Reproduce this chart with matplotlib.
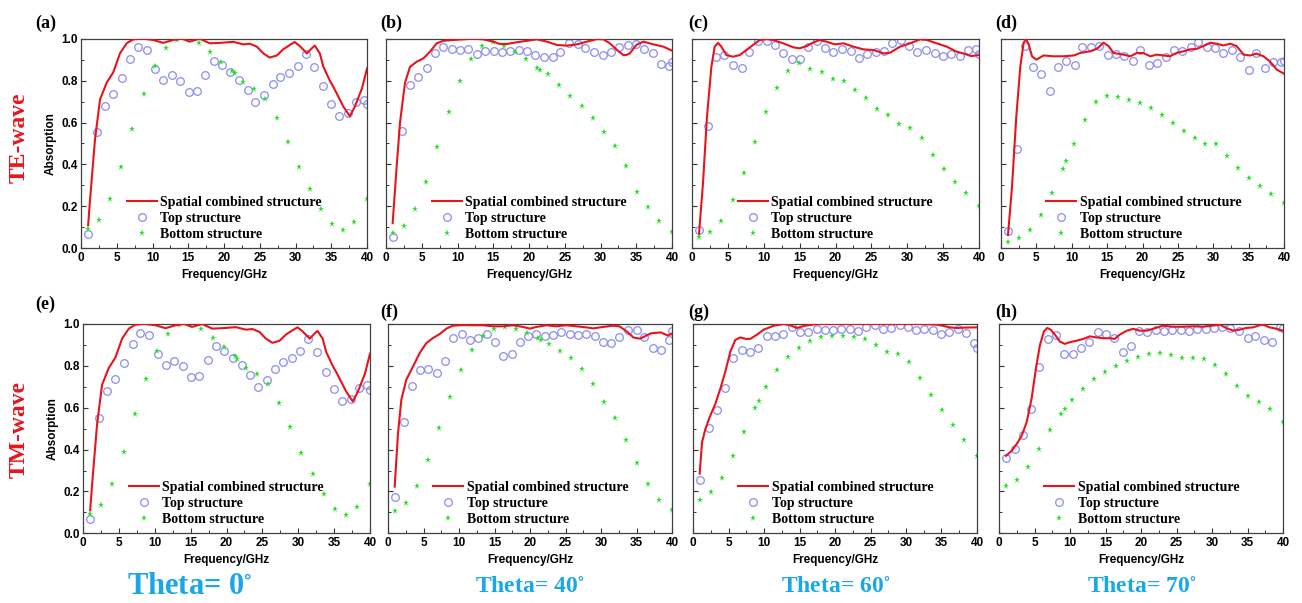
import matplotlib
matplotlib.use("Agg")
import matplotlib.pyplot as plt
from matplotlib.ticker import MultipleLocator

plt.rcParams['mathtext.fontset'] = 'stix'

# sample frequencies (GHz) of the scatter series
freq_top = [1.0, 2.2, 3.4, 4.5, 5.7, 6.9, 8.0, 9.2, 10.4, 11.5, 12.7, 13.9, 15.1, 16.2,
            17.4, 18.6, 19.7, 20.9, 22.1, 23.3, 24.4, 25.6, 26.8, 27.9, 29.1, 30.3, 31.4,
            32.6, 33.8, 35.0, 36.1, 37.3, 38.5, 39.6, 40.0]
freq_bot = [1.0, 2.55, 4.1, 5.65, 7.2, 8.75, 10.3, 11.85, 13.4, 14.95, 16.5, 18.05, 19.6,
            21.15, 22.7, 24.25, 25.8, 27.35, 28.9, 30.45, 32.0, 33.55, 35.1, 36.65, 38.2, 40.0]
freq_bot_21 = freq_bot[:14] + [21.5] + freq_bot[14:]
freq_bot_9 = freq_bot[:6] + [9.25] + freq_bot[6:]

# (a)/(e) theta = 0
line_x_a = [1.0, 1.26, 1.96, 2.66, 3.59, 4.52, 5.45, 6.39, 7.32, 8.72, 10.1, 11.5, 12.9, 14.1,
            15.2, 16.6, 18.0, 19.4, 21.3, 22.7, 23.6, 24.6, 25.5, 26.4, 27.4, 28.3, 29.2, 29.9,
            30.6, 31.6, 32.3, 32.7, 33.4, 33.9, 34.8, 35.3, 36.7, 37.6, 38.3, 39.3, 40.0]
line_y_a = [0.11, 0.23, 0.52, 0.71, 0.79, 0.84, 0.93, 0.978, 0.997, 1.0, 0.994, 0.98, 0.994, 1.0,
            0.986, 1.0, 0.978, 0.98, 0.985, 0.973, 0.976, 0.962, 0.93, 0.91, 0.92, 0.95, 0.97, 0.984,
            0.965, 0.93, 0.955, 0.967, 0.93, 0.866, 0.80, 0.77, 0.676, 0.63, 0.676, 0.763, 0.858]
top_a = [0.07, 0.553, 0.68, 0.735, 0.814, 0.903, 0.959, 0.948, 0.855, 0.804, 0.825, 0.80, 0.746,
         0.752, 0.828, 0.895, 0.873, 0.839, 0.803, 0.757, 0.70, 0.731, 0.785, 0.817, 0.836, 0.871,
         0.928, 0.866, 0.773, 0.69, 0.633, 0.644, 0.696, 0.709, 0.687]
bot_a = [0.09, 0.135, 0.235, 0.39, 0.568, 0.736, 0.87, 0.954, 0.994, 0.998, 0.978, 0.935, 0.889,
         0.846, 0.835, 0.792, 0.76, 0.712, 0.623, 0.506, 0.386, 0.281, 0.189, 0.118, 0.087, 0.126, 0.235]

# (b) TE, theta = 40
line_x_b = [0.93, 1.49, 1.96, 2.66, 3.36, 4.29, 5.22, 6.15, 7.09, 8.02, 9.42, 10.8, 12.2, 13.6,
            15.0, 15.9, 16.9, 18.3, 19.7, 21.1, 22.5, 23.9, 25.3, 26.7, 28.1, 29.5, 30.4, 31.3,
            32.3, 33.2, 33.6, 34.1, 35.0, 36.0, 37.4, 38.8, 40.0]
line_y_b = [0.12, 0.39, 0.60, 0.79, 0.866, 0.89, 0.906, 0.938, 0.978, 0.99, 0.994, 0.997, 1.0, 0.997,
            0.986, 0.975, 0.975, 0.983, 0.99, 0.997, 0.986, 0.97, 0.967, 0.973, 0.986, 0.998, 0.997, 0.978,
            0.946, 0.922, 0.922, 0.93, 0.97, 0.986, 0.973, 0.962, 0.943]
top_b = [0.056, 0.561, 0.779, 0.816, 0.858, 0.93, 0.962, 0.952, 0.944, 0.952, 0.928, 0.941, 0.941,
         0.938, 0.941, 0.948, 0.943, 0.92, 0.913, 0.911, 0.936, 0.978, 0.976, 0.954, 0.938, 0.922,
         0.936, 0.962, 0.968, 0.973, 0.951, 0.93, 0.878, 0.87, 0.889]
bot_b = [0.075, 0.108, 0.188, 0.318, 0.483, 0.652, 0.797, 0.901, 0.963, 0.983, 0.967, 0.936, 0.901,
         0.858, 0.849, 0.831, 0.78, 0.728, 0.679, 0.62, 0.555, 0.486, 0.394, 0.269, 0.197, 0.129, 0.076]

# (c) TE, theta = 60
line_x_c = [0.98, 1.53, 2.09, 2.70, 3.16, 3.63, 4.09, 4.79, 5.72, 6.65, 7.58, 8.51, 9.44, 10.4,
            11.3, 12.7, 14.1, 15.0, 16.0, 16.9, 17.8, 18.7, 19.9, 21.1, 22.5, 23.9, 25.3, 26.7,
            27.6, 29.0, 30.4, 31.8, 32.7, 34.1, 35.5, 36.9, 37.8, 38.9, 40.0]
line_y_c = [0.07, 0.31, 0.628, 0.866, 0.962, 0.98, 0.962, 0.922, 0.914, 0.922, 0.946, 0.97, 0.994, 0.998,
            0.994, 0.978, 0.959, 0.954, 0.965, 0.982, 0.994, 0.986, 0.973, 0.978, 0.962, 0.949, 0.946, 0.93,
            0.933, 0.962, 0.978, 0.997, 0.994, 0.978, 0.962, 0.938, 0.93, 0.917, 0.922]
top_c = [0.087, 0.585, 0.911, 0.922, 0.873, 0.862, 0.938, 0.987, 0.987, 0.971, 0.93, 0.901, 0.901,
         0.959, 0.989, 0.957, 0.938, 0.949, 0.941, 0.909, 0.927, 0.936, 0.943, 0.978, 0.995, 0.967,
         0.936, 0.946, 0.93, 0.919, 0.927, 0.917, 0.946, 0.951, 0.925]
bot_c = [0.052, 0.076, 0.132, 0.229, 0.361, 0.507, 0.65, 0.766, 0.846, 0.882, 0.857, 0.841, 0.808,
         0.798, 0.754, 0.717, 0.665, 0.638, 0.591, 0.576, 0.526, 0.444, 0.38, 0.318, 0.262, 0.204]

# (d) TE, theta = 70
line_x_d = [0.99, 1.55, 2.16, 2.73, 3.2, 3.53, 3.91, 4.38, 4.99, 6.02, 7.44, 8.85, 10.3, 11.2,
            12.6, 13.6, 14.5, 15.2, 15.9, 17.3, 18.3, 19.2, 20.1, 21.1, 22.0, 22.96, 23.9, 24.8,
            25.8, 26.7, 27.7, 28.6, 29.6, 30.5, 31.4, 32.4, 33.3, 34.3, 35.2, 36.1, 37.1, 38.0,
            39.0, 40.0]
line_y_d = [0.064, 0.29, 0.627, 0.868, 0.98, 1.0, 0.973, 0.916, 0.9, 0.92, 0.916, 0.916, 0.92, 0.932,
            0.94, 0.953, 0.981, 0.965, 0.932, 0.924, 0.916, 0.932, 0.932, 0.916, 0.924, 0.92, 0.916, 0.932,
            0.94, 0.949, 0.952, 0.965, 0.981, 0.976, 0.968, 0.976, 0.965, 0.924, 0.92, 0.929, 0.916, 0.892,
            0.852, 0.833]
top_d = [0.084, 0.473, 0.965, 0.863, 0.83, 0.752, 0.863, 0.895, 0.876, 0.961, 0.961, 0.965, 0.923,
         0.929, 0.916, 0.895, 0.945, 0.876, 0.884, 0.913, 0.945, 0.94, 0.96, 0.982, 0.961, 0.957,
         0.934, 0.945, 0.913, 0.849, 0.932, 0.86, 0.887, 0.887, 0.895]
bot_d = [0.032, 0.048, 0.087, 0.161, 0.262, 0.379, 0.418, 0.498, 0.611, 0.699, 0.728, 0.72, 0.707,
         0.691, 0.669, 0.635, 0.596, 0.559, 0.527, 0.498, 0.498, 0.439, 0.383, 0.334, 0.296, 0.257, 0.215]

# (f) TM, theta = 40
line_x_f = [0.94, 1.41, 1.88, 2.58, 3.52, 4.46, 5.4, 6.34, 7.28, 8.22, 9.15, 10.6, 12.0, 13.4,
            14.8, 16.2, 17.6, 19.0, 20.0, 20.9, 22.3, 23.7, 25.1, 26.5, 27.9, 28.9, 30.3, 31.7,
            32.6, 33.6, 34.6, 35.5, 37.0, 38.4, 39.4, 40.0]
line_y_f = [0.223, 0.478, 0.638, 0.734, 0.797, 0.861, 0.909, 0.933, 0.952, 0.978, 0.992, 0.995, 0.994, 0.994,
            0.989, 0.989, 0.994, 0.986, 0.978, 0.986, 0.994, 0.989, 0.994, 0.989, 0.984, 0.979, 0.986, 0.992,
            0.989, 0.965, 0.935, 0.93, 0.955, 0.96, 0.945, 0.955]
top_f = [0.172, 0.53, 0.702, 0.778, 0.786, 0.766, 0.825, 0.933, 0.952, 0.923, 0.935, 0.952, 0.912,
         0.848, 0.856, 0.914, 0.941, 0.952, 0.944, 0.949, 0.962, 0.952, 0.949, 0.952, 0.944, 0.914,
         0.911, 0.938, 0.97, 0.97, 0.936, 0.885, 0.874, 0.925, 0.965]
bot_f = [0.108, 0.147, 0.226, 0.352, 0.501, 0.651, 0.778, 0.877, 0.944, 0.978, 0.986, 0.978, 0.957,
         0.933, 0.925, 0.906, 0.872, 0.837, 0.785, 0.714, 0.625, 0.549, 0.447, 0.335, 0.234, 0.159, 0.112]

# (g) TM, theta = 60
line_x_g = [0.94, 1.27, 1.74, 2.35, 3.15, 3.85, 4.55, 5.26, 5.96, 6.67, 7.37, 8.08, 9.01, 9.95,
            11.4, 12.8, 13.7, 14.6, 15.8, 17.5, 20.3, 22.6, 27.3, 32.0, 34.4, 36.2, 37.2, 38.5, 40.0]
line_y_g = [0.285, 0.434, 0.498, 0.555, 0.619, 0.691, 0.772, 0.868, 0.924, 0.936, 0.929, 0.929, 0.949, 0.973,
            0.992, 1.0, 0.994, 0.981, 0.992, 1.0, 1.0, 1.0, 1.0, 1.0, 0.997, 0.984, 0.981, 0.983, 0.984]
top_g = [0.257, 0.502, 0.587, 0.695, 0.839, 0.875, 0.865, 0.887, 0.944, 0.944, 0.953, 0.987, 0.961,
         0.961, 0.974, 0.969, 0.969, 0.977, 0.977, 0.965, 0.984, 0.994, 0.977, 0.981, 0.994, 0.986,
         0.973, 0.977, 0.973, 0.952, 0.96, 0.977, 0.957, 0.908, 0.887]
bot_g = [0.161, 0.196, 0.265, 0.368, 0.486, 0.598, 0.633, 0.698, 0.778, 0.841, 0.886, 0.92, 0.936,
         0.941, 0.945, 0.936, 0.928, 0.9, 0.868, 0.857, 0.817, 0.74, 0.662, 0.587, 0.519, 0.447, 0.37]

# (h) TM, theta = 70
line_x_h = [0.98, 1.78, 2.48, 3.19, 3.89, 4.59, 5.2, 5.77, 6.33, 6.8, 7.27, 7.88, 8.58, 9.28,
            9.98, 10.9, 11.9, 12.8, 13.7, 14.7, 15.6, 16.3, 17.0, 18.0, 18.9, 19.8, 20.8, 21.7,
            23.1, 24.5, 25.9, 27.3, 28.7, 30.1, 31.1, 32.0, 33.0, 33.9, 34.8, 35.8, 36.7, 37.2,
            38.1, 39.1, 40.0]
line_y_h = [0.37, 0.394, 0.426, 0.466, 0.53, 0.643, 0.788, 0.9, 0.965, 0.981, 0.973, 0.949, 0.916, 0.905,
            0.913, 0.92, 0.929, 0.941, 0.936, 0.932, 0.932, 0.929, 0.949, 0.968, 0.977, 0.968, 0.968, 0.977,
            0.992, 0.987, 0.987, 0.989, 0.987, 0.992, 0.997, 0.981, 0.968, 0.973, 0.981, 0.984, 0.994, 0.997,
            0.984, 0.977, 0.968]
top_h = [0.36, 0.405, 0.471, 0.592, 0.793, 0.929, 0.949, 0.857, 0.859, 0.886, 0.915, 0.961, 0.953,
         0.932, 0.868, 0.897, 0.965, 0.961, 0.969, 0.966, 0.973, 0.973, 0.965, 0.974, 0.974, 0.981,
         0.986, 0.981, 0.966, 0.932, 0.945, 0.924, 0.916, 0.984, 0.98]
bot_h = [0.225, 0.257, 0.318, 0.405, 0.494, 0.571, 0.592, 0.635, 0.691, 0.736, 0.772, 0.801, 0.823,
         0.841, 0.855, 0.863, 0.852, 0.836, 0.839, 0.833, 0.804, 0.762, 0.703, 0.656, 0.625, 0.592, 0.534]

panel_tags = ['(a)', '(b)', '(c)', '(d)', '(e)', '(f)', '(g)', '(h)']
theta_labels = ['Theta= 0$^{\\circ}$', 'Theta= 40$^{\\circ}$', 'Theta= 60$^{\\circ}$', 'Theta= 70$^{\\circ}$']
legend_labels = ['Spatial combined structure', 'Top structure', 'Bottom structure']

panels = [
    (line_x_a, line_y_a, top_a, freq_bot_21, bot_a),
    (line_x_b, line_y_b, top_b, freq_bot_21, bot_b),
    (line_x_c, line_y_c, top_c, freq_bot, bot_c),
    (line_x_d, line_y_d, top_d, freq_bot_9, bot_d),
    (line_x_a, line_y_a, top_a, freq_bot_21, bot_a),
    (line_x_f, line_y_f, top_f, freq_bot_21, bot_f),
    (line_x_g, line_y_g, top_g, freq_bot_9, bot_g),
    (line_x_h, line_y_h, top_h, freq_bot_9, bot_h),
]

W, H = 1302, 603
# axes boxes in pixels: left, right, top, bottom
boxes = [(81, 367, 38.7, 248.3), (386, 672, 38.7, 248.3), (692, 979, 38.7, 248.3), (1001, 1284, 38.7, 248.3),
         (83, 370, 324, 533.3), (388, 672, 324, 533.3), (693, 977, 324, 533.3), (999, 1283, 324, 533.3)]
tag_pos = [(35, 23), (380, 23), (688, 23), (995, 23), (35, 304), (380, 312), (688, 312), (995, 312)]

RED = '#E8141B'
BLUE_C = '#8C8CF0'
GREEN = '#22E022'
SKY = '#1AA7E6'

fig = plt.figure(figsize=(W / 100, H / 100), dpi=100)

for i, (lx, ly, tp, bx, bt) in enumerate(panels):
    l, r, t, b = boxes[i]
    ax = fig.add_axes([l / W, 1 - b / H, (r - l) / W, (b - t) / H])
    ax.plot(lx, ly, color=RED, lw=1.5, label=legend_labels[0], zorder=3)
    ax.plot(freq_top, tp, ls='none', marker='o', mfc='none', mec=BLUE_C, ms=5.5, mew=0.9,
            label=legend_labels[1], zorder=2)
    ax.plot(bx, bt, ls='none', marker='*', color=GREEN, ms=5, mew=0, label=legend_labels[2], zorder=2)
    ax.set_xlim(0, 40)
    ax.set_ylim(0, 1.0)
    ax.xaxis.set_major_locator(MultipleLocator(5))
    ax.xaxis.set_minor_locator(MultipleLocator(2.5))
    ax.yaxis.set_major_locator(MultipleLocator(0.2))
    ax.yaxis.set_minor_locator(MultipleLocator(0.1))
    ax.tick_params(which='both', direction='in', top=False, right=False, color='#333333')
    ax.tick_params(which='major', length=3.5, width=0.8, pad=2.5)
    ax.tick_params(which='minor', length=2, width=0.7)
    for sp in ax.spines.values():
        sp.set_linewidth(0.9)
        sp.set_color('#404040')
    for lab in ax.get_xticklabels() + ax.get_yticklabels():
        lab.set_fontfamily('Liberation Sans')
        lab.set_fontweight('bold')
        lab.set_fontsize(8.5)
    if i % 4 == 0:
        ax.yaxis.set_major_formatter(matplotlib.ticker.FormatStrFormatter('%.1f'))
        ax.set_ylabel('Absorption', fontfamily='Liberation Sans', fontweight='bold', fontsize=8.5, labelpad=3)
    else:
        ax.set_yticklabels([])
    ax.set_xlabel('Frequency/GHz', fontfamily='Liberation Sans', fontweight='bold', fontsize=8.5, labelpad=4)
    ax.legend(loc='lower left', bbox_to_anchor=(0.16, 0.035), borderaxespad=0, borderpad=0,
              frameon=False, handlelength=2.15, handletextpad=0.25, labelspacing=0.22, numpoints=1,
              prop={'family': 'Liberation Serif', 'weight': 'bold', 'size': 10})
    tx, ty = tag_pos[i]
    fig.text(tx / W, 1 - ty / H, panel_tags[i], ha='left', va='center',
             fontfamily='Liberation Serif', fontweight='bold', fontsize=13)

fig.text(19 / W, 1 - 138 / H, 'TE-wave', rotation=90, ha='center', va='center', color=RED,
         fontfamily='Liberation Serif', fontweight='bold', fontsize=17)
fig.text(19 / W, 1 - 430 / H, 'TM-wave', rotation=90, ha='center', va='center', color=RED,
         fontfamily='Liberation Serif', fontweight='bold', fontsize=17)

theta_x = [190, 530, 836, 1142]
theta_size = [22, 17, 17, 17]
for k in range(4):
    fig.text(theta_x[k] / W, 1 - 587 / H, theta_labels[k], ha='center', va='center', color=SKY,
             fontfamily='Liberation Serif', fontweight='bold', fontsize=theta_size[k])

fig.savefig('out.png', dpi=100)
